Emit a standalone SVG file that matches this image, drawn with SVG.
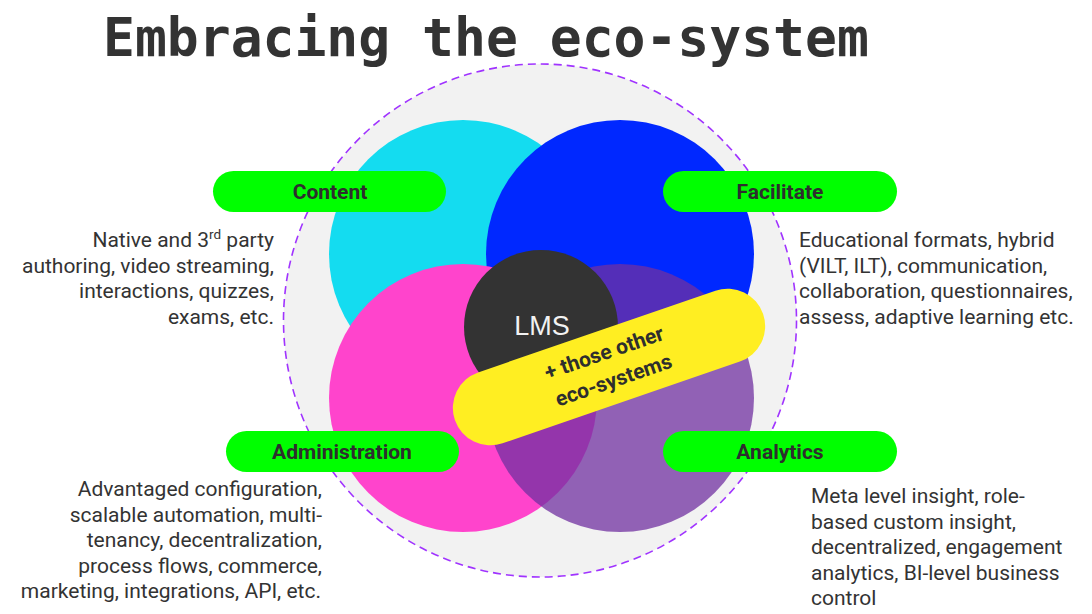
<svg xmlns="http://www.w3.org/2000/svg" width="1092" height="614" viewBox="0 0 1092 614">
<style>
.title{font-family:"DejaVu Sans Mono","Liberation Mono",monospace;font-weight:bold;font-size:53px;fill:#333333}
.lbl{font-family:Roboto,"Liberation Sans",sans-serif;font-weight:bold;font-size:21px;fill:#2e2e2e;text-anchor:middle}
.desc{font-family:Roboto,"Liberation Sans",sans-serif;font-size:21px;fill:#333333}
.pill{fill:#00ff00}
</style>
<rect width="1092" height="614" fill="#ffffff"/>
<text class="title" x="103" y="56">Embracing the eco-system</text>

<g id="eco-boundary">
<circle cx="540" cy="320.5" r="256.5" fill="#f2f2f2" stroke="#a033ff" stroke-width="1.6" stroke-dasharray="8 5"/>
</g>
<g id="content-circle"><circle cx="463" cy="254" r="134" fill="#14dcf0"/></g>
<g id="facilitate-circle"><circle cx="620" cy="254" r="134" fill="#0028ff"/></g>
<g id="administration-circle"><circle cx="463" cy="398" r="134" fill="#ff44cc"/></g>
<g id="analytics-circle"><circle cx="620" cy="398" r="134" fill="#7030a0" fill-opacity="0.75"/></g>

<g id="lms">
<circle cx="541" cy="327" r="77" fill="#333333"/>
<text x="542" y="335" font-family="'Liberation Sans',Arial,sans-serif" font-size="27" fill="#f2f2f2" text-anchor="middle">LMS</text>
</g>

<g id="other-ecosystems" transform="translate(609 367) rotate(-19)">
<rect x="-163" y="-37.5" width="326" height="75" rx="37.5" fill="#ffee22"/>
<text class="lbl" x="0" y="-8" style="font-size:21px">+ those other</text>
<text class="lbl" x="0" y="21" style="font-size:21px">eco-systems</text>
</g>

<g id="content">
<rect class="pill" x="213" y="171" width="233" height="41" rx="20.5"/>
<text class="lbl" x="330" y="199">Content</text>
<text class="desc" text-anchor="end"><tspan x="274" y="247">Native and 3</tspan><tspan font-size="13.5" dy="-8">rd</tspan><tspan dy="8"> party</tspan><tspan x="274" y="272.5">authoring, video streaming,</tspan><tspan x="274" y="298">interactions, quizzes,</tspan><tspan x="274" y="323.5">exams, etc.</tspan></text>
</g>

<g id="facilitate">
<rect class="pill" x="663" y="171" width="234" height="41" rx="20.5"/>
<text class="lbl" x="780" y="199">Facilitate</text>
<text class="desc"><tspan x="799" y="247">Educational formats, hybrid</tspan><tspan x="799" y="272.5">(VILT, ILT), communication,</tspan><tspan x="799" y="298">collaboration, questionnaires,</tspan><tspan x="799" y="323.5">assess, adaptive learning etc.</tspan></text>
</g>

<g id="administration">
<rect class="pill" x="226" y="431" width="233" height="41" rx="20.5"/>
<text class="lbl" x="342" y="459">Administration</text>
<text class="desc" text-anchor="end"><tspan x="322" y="496">Advantaged configuration,</tspan><tspan x="322" y="521.5">scalable automation, multi-</tspan><tspan x="322" y="547">tenancy, decentralization,</tspan><tspan x="322" y="572.5">process flows, commerce,</tspan><tspan x="321" y="598">marketing, integrations, API, etc.</tspan></text>
</g>

<g id="analytics">
<rect class="pill" x="663" y="431" width="234" height="41" rx="20.5"/>
<text class="lbl" x="780" y="459">Analytics</text>
<text class="desc"><tspan x="811" y="503">Meta level insight, role-</tspan><tspan x="811" y="528.5">based custom insight,</tspan><tspan x="811" y="554">decentralized, engagement</tspan><tspan x="811" y="579.5">analytics, BI-level business</tspan><tspan x="811" y="605">control</tspan></text>
</g>
</svg>
